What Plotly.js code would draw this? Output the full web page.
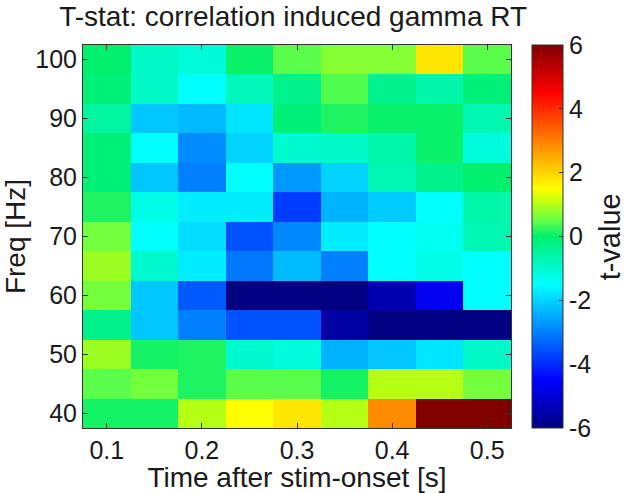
<!DOCTYPE html>
<html>
<head>
<meta charset="utf-8">
<script src="https://cdn.plot.ly/plotly-3.0.1.min.js"></script>
<style>
html,body{margin:0;padding:0;background:#fff;}
#chart{width:640px;height:493px;}
</style>
</head>
<body>
<div id="chart"></div>
<script>
// Time bins (s)
var timeBins = [0.1, 0.15, 0.2, 0.25, 0.3, 0.35, 0.4, 0.45, 0.5];
// Frequency bins (Hz)
var freqBins = [40, 45, 50, 55, 60, 65, 70, 75, 80, 85, 90, 95, 100];
// t-values per frequency row (40 Hz -> 100 Hz), columns follow timeBins
var t40  = [0.1, 0.1, 1.0, 1.5, 1.8, 1.0, 2.85, 6, 6];
var t45  = [0.45, 0.6, 0.15, 0.45, 0.45, 0.1, 1.0, 1.0, 0.6];
var t50  = [0.85, 0.1, 0.15, -1.0, -1.15, -2.4, -2.15, -1.8, -0.9];
var t55  = [-0.3, -2.15, -3.0, -3.55, -3.55, -5.6, -6, -6, -6];
var t60  = [0.6, -2.15, -3.45, -6, -6, -6, -5.4, -4.7, -1.5];
var t65  = [0.85, -1.0, -1.7, -3.1, -2.3, -3.0, -1.5, -1.25, -1.5];
var t70  = [0.6, -1.5, -1.9, -3.55, -2.9, -1.7, -1.5, -1.35, -0.7];
var t75  = [0.15, -1.25, -1.7, -1.7, -3.8, -2.4, -2.1, -1.5, -0.6];
var t80  = [-0.1, -2.15, -3.0, -1.5, -2.7, -2.0, -0.7, -0.3, 0.0];
var t85  = [-0.1, -1.5, -2.85, -2.0, -1.0, -0.9, -0.6, 0.05, -1.15];
var t90  = [-0.5, -2.15, -2.3, -1.8, -0.1, 0.15, 0.05, 0.05, -0.7];
var t95  = [-0.1, -0.9, -1.5, -0.8, -0.3, 0.4, -0.3, -0.6, -0.1];
var t100 = [0.0, -0.9, -1.1, 0.05, 0.45, 0.7, 0.7, 1.8, 0.45];
var xTicks = [0.1, 0.2, 0.3, 0.4, 0.5];
var xTickText = ['0.1', '0.2', '0.3', '0.4', '0.5'];
var yTicks = [40, 50, 60, 70, 80, 90, 100];
var cbTicks = [-6, -4, -2, 0, 2, 4, 6];

var z = [t40, t45, t50, t55, t60, t65, t70, t75, t80, t85, t90, t95, t100];

var jetLike = [
  [0, 'rgb(0,0,128)'],
  [0.125, 'rgb(0,0,255)'],
  [0.375, 'rgb(0,255,255)'],
  [0.5, 'rgb(0,240,110)'],
  [0.5417, 'rgb(100,255,70)'],
  [0.5833, 'rgb(180,255,20)'],
  [0.625, 'rgb(255,255,0)'],
  [0.875, 'rgb(255,0,0)'],
  [1, 'rgb(128,0,0)']
];

var fontFam = '"Liberation Sans", Arial, sans-serif';
var txtColor = '#1a1a1a';
var tickSize = 25;
var titleSize = 28;

var trace = {
  type: 'heatmap',
  x: timeBins,
  y: freqBins,
  z: z,
  zmin: -6,
  zmax: 6,
  zsmooth: false,
  colorscale: jetLike,
  colorbar: {
    x: 1.049,
    xanchor: 'left',
    xpad: 0,
    ypad: 0,
    y: 0.5,
    yanchor: 'middle',
    len: 1,
    lenmode: 'fraction',
    thickness: 31,
    thicknessmode: 'pixels',
    outlinewidth: 1,
    outlinecolor: '#333',
    tickvals: cbTicks,
    ticktext: cbTicks.map(String),
    ticks: 'inside',
    ticklen: 4,
    tickcolor: '#333',
    tickfont: {family: fontFam, size: tickSize, color: txtColor}
  }
};

var layout = {
  width: 640,
  height: 493,
  margin: {l: 83, r: 129, t: 45, b: 65},
  paper_bgcolor: '#fff',
  plot_bgcolor: '#fff',
  font: {family: fontFam, color: txtColor},
  title: {
    text: 'T-stat: correlation induced gamma RT',
    font: {family: fontFam, size: titleSize, color: txtColor},
    x: 0.458, xanchor: 'center',
    y: 0.968, yanchor: 'middle', yref: 'container'
  },
  xaxis: {
    range: [0.075, 0.525],
    tickvals: xTicks,
    ticktext: xTickText,
    ticks: 'inside',
    ticklen: 5,
    tickcolor: '#333',
    showline: true,
    linecolor: '#333',
    linewidth: 1,
    mirror: 'ticks',
    showgrid: false,
    zeroline: false,
    tickfont: {family: fontFam, size: tickSize, color: txtColor},
    title: {text: 'Time after stim-onset [s]', font: {family: fontFam, size: titleSize, color: txtColor}, standoff: 0}
  },
  yaxis: {
    range: [37.5, 102.5],
    tickvals: yTicks,
    ticks: 'inside',
    ticklen: 5,
    tickcolor: '#333',
    showline: true,
    linecolor: '#333',
    linewidth: 1,
    mirror: 'ticks',
    showgrid: false,
    zeroline: false,
    tickfont: {family: fontFam, size: tickSize, color: txtColor},
    title: {text: 'Freq [Hz]', font: {family: fontFam, size: titleSize, color: txtColor}, standoff: 2}
  },
  annotations: [{
    text: 't-value',
    xref: 'paper', yref: 'paper',
    x: 1.231, y: 0.5,
    xanchor: 'center', yanchor: 'middle',
    textangle: -90,
    showarrow: false,
    font: {family: fontFam, size: 29, color: txtColor}
  }]
};

Plotly.newPlot('chart', [trace], layout, {displayModeBar: false, staticPlot: true});
</script>
</body>
</html>
